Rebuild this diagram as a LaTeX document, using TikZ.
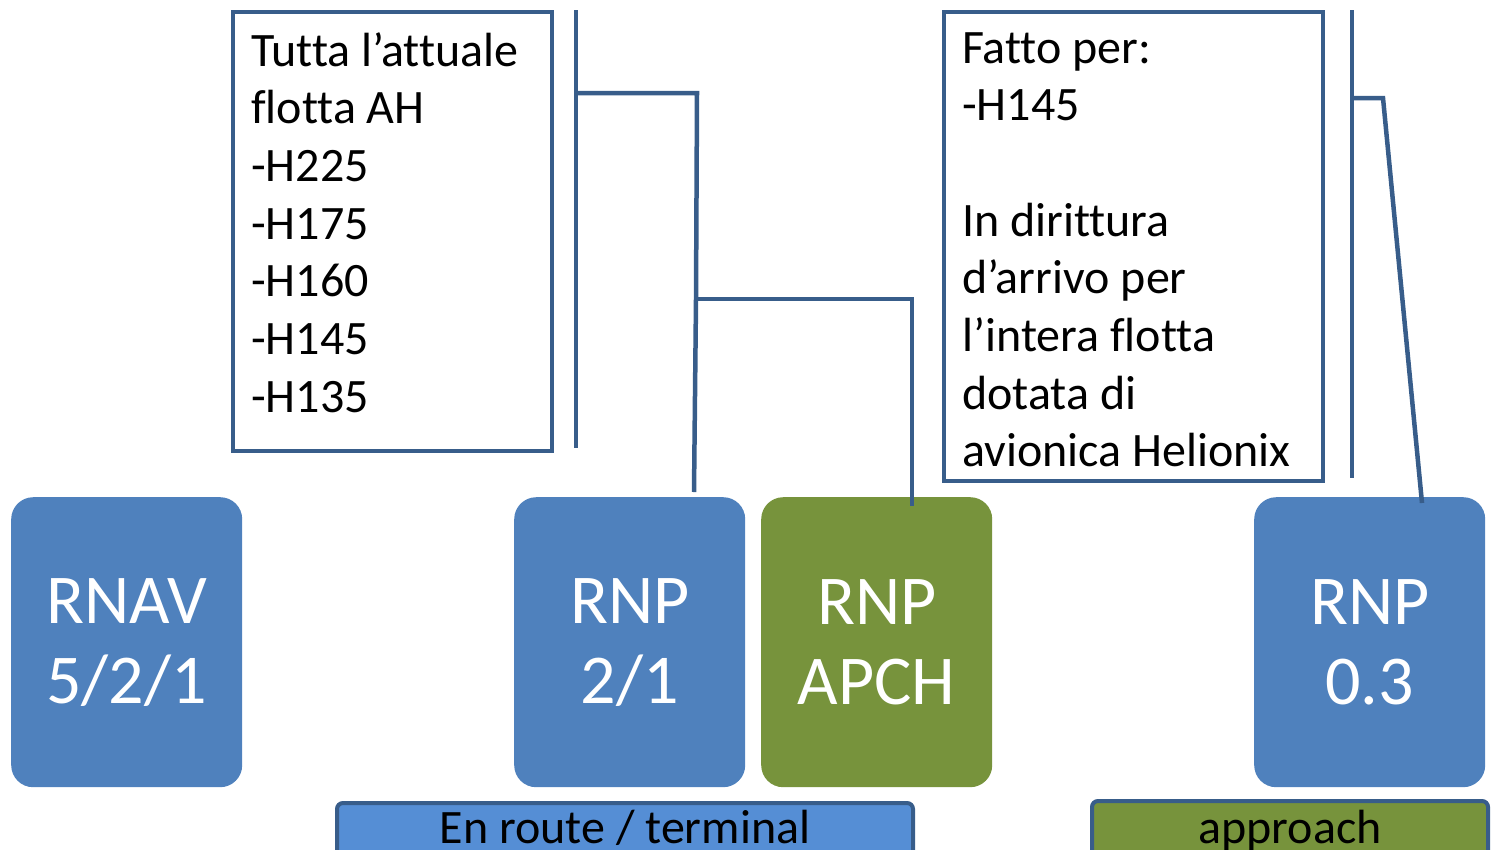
\documentclass[tikz,border=0pt]{standalone}
\usepackage{fontspec}
\setmainfont{Carlito}[RawFeature={-liga;-clig;-calt;-dlig}]
\definecolor{tileblue}{HTML}{4F81BD}
\definecolor{tilegreen}{HTML}{77933C}
\definecolor{barblue}{HTML}{558ED5}
\definecolor{edgeblue}{HTML}{385D8A}
\begin{document}
\begin{tikzpicture}[x=1pt,y=-1pt,
  tile/.style={rounded corners=22pt, minimum width=231pt, minimum height=290pt, inner sep=0pt,
    anchor=north west, text=white, align=center, font=\fontsize{70}{80}\selectfont},
  notebox/.style={draw=edgeblue, line width=4pt, fill=white, anchor=north west, inner sep=0pt},
  notetext/.style={anchor=north west, align=left, inner sep=0pt, font=\fontsize{48}{57.7}\selectfont},
  bar/.style={draw=edgeblue, line width=4pt, rounded corners=6pt},
  conn/.style={draw=edgeblue, line width=4.5pt},
  bartext/.style={anchor=base, inner sep=0pt, font=\fontsize{48}{56}\selectfont}]
\useasboundingbox (0,0) rectangle (1493,849);
\clip (0,0) rectangle (1493,849);
% tiles
\node[tile, fill=tileblue] (rnav) at (11,497) {RNAV\\5/2/1};
\node[tile, fill=tileblue] (rnp21) at (514,497) {RNP\\2/1};
\node[tile, fill=tilegreen] (apch) at (761,497) {RNP\\APCH};
\node[tile, fill=tileblue] (rnp03) at (1254,497) {RNP\\0.3};
% note boxes
\node[notebox, minimum width=319pt, minimum height=439pt] (lbox) at (231,10) {};
\node[notetext] (ltext) at (251,32) {Tutta l’attuale\\flotta AH\\-H225\\-H175\\-H160\\-H145\\-H135};
\node[notebox, minimum width=379pt, minimum height=469pt] (rbox) at (942,10) {};
\node[notetext] (rtext) at (962,32) {Fatto per:\\-H145\\[57.7pt]In dirittura\\d’arrivo per\\l’intera flotta\\dotata di\\avionica Helionix};
% connectors
\coordinate (la) at (576,10);
\coordinate (lb) at (576,448);
\coordinate (lj) at (576,93);
\coordinate (lk) at (697,93);
\coordinate (lm) at (696,299);
\coordinate (ln) at (912,299);
\coordinate (r21) at (694,492);
\coordinate (rap) at (912,506);
\draw[conn] (la) -- (lb);
\draw[conn] (lj) -- (lk) -- (lm) -- (r21);
\draw[conn] (lm) -- (ln) -- (rap);
\coordinate (ra) at (1352,10);
\coordinate (rb) at (1352,478);
\coordinate (rj) at (1352,98);
\coordinate (rk) at (1383,98);
\coordinate (r03) at (1422,503);
\draw[conn] (ra) -- (rb);
\draw[conn] (rj) -- (rk) -- (r03);
% bottom bars
\path[bar, fill=barblue] (337,803) rectangle (913,870);
\node[bartext] (enroute) at (625,843) {En route / terminal};
\path[bar, fill=tilegreen] (1092,801) rectangle (1488,870);
\node[bartext] (approach) at (1290,843) {approach};
\end{tikzpicture}
\end{document}
